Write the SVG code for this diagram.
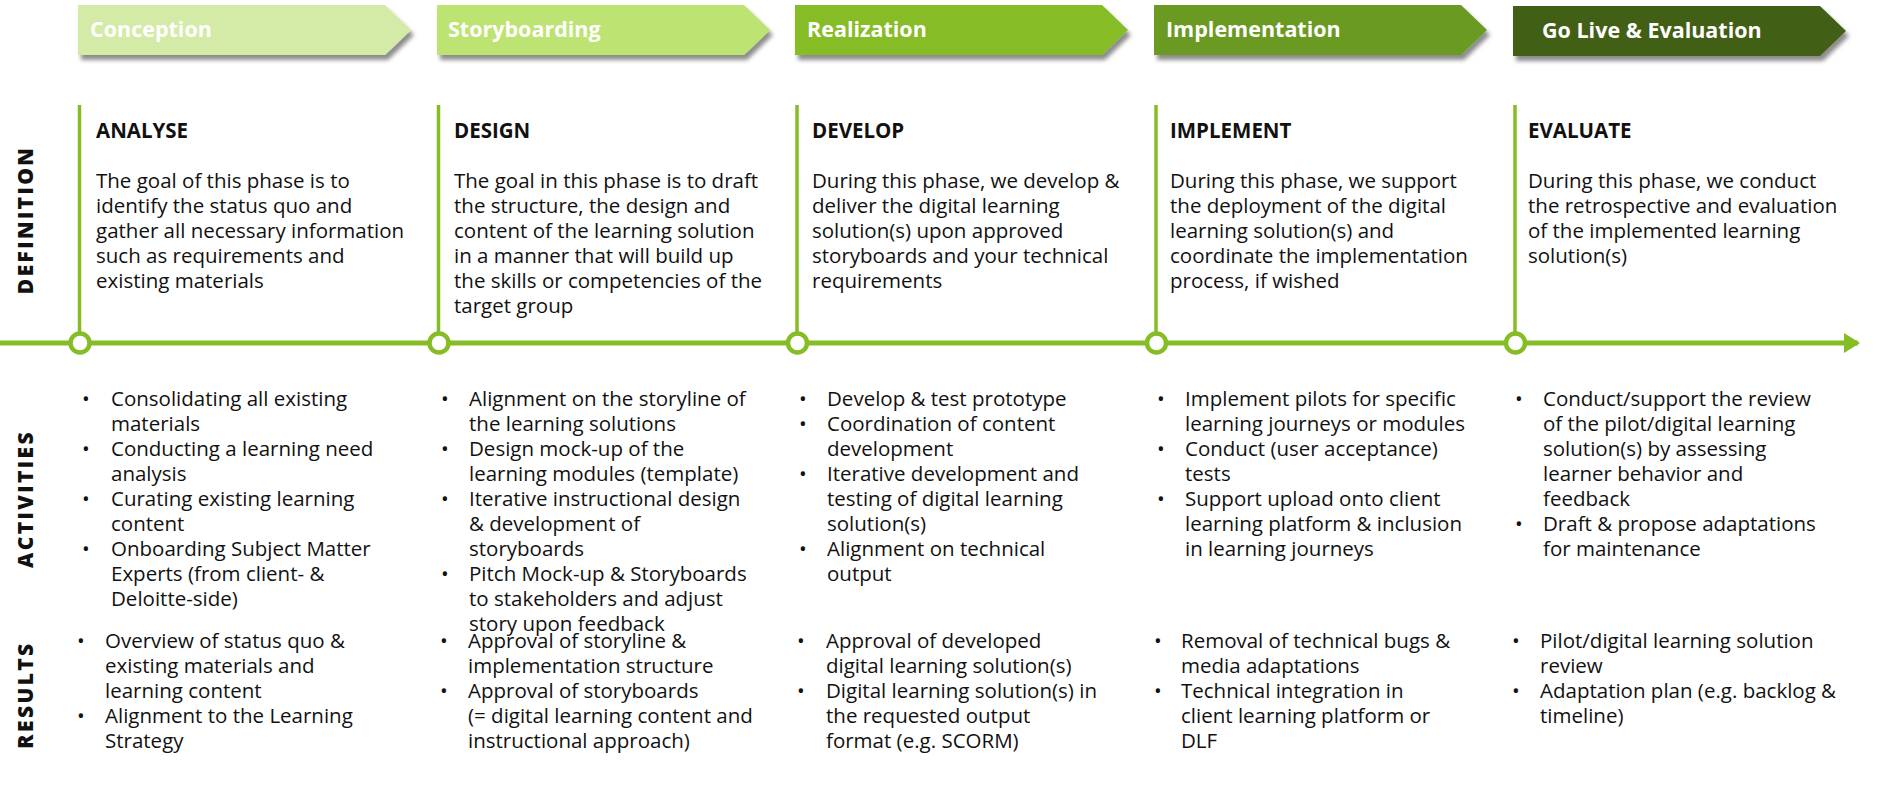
<svg xmlns="http://www.w3.org/2000/svg" width="1877" height="797" viewBox="0 0 1877 797">
<defs>
<style>
.ct{font-family:"Open Sans","DejaVu Sans",sans-serif;font-weight:bold;font-size:21.5px;fill:#ffffff}
.hd{font-family:"Open Sans","DejaVu Sans",sans-serif;font-weight:bold;font-size:20.5px;fill:#111111}
.tx{font-family:"Open Sans","DejaVu Sans",sans-serif;font-size:20.5px;fill:#111111}
.sd{font-family:"Open Sans","DejaVu Sans",sans-serif;font-weight:800;font-size:21px;letter-spacing:2.4px;fill:#111111}
.vl{stroke:#86bc25;stroke-width:3.5;fill:none}
.cir{fill:#ffffff;stroke:#86bc25;stroke-width:4.5}
</style>
<filter id="sh" x="-5%" y="-20%" width="115%" height="160%">
<feDropShadow dx="3" dy="5" stdDeviation="2" flood-color="#000000" flood-opacity="0.45"/>
</filter>
<marker id="arr" markerUnits="userSpaceOnUse" markerWidth="16" markerHeight="20" refX="14" refY="10" orient="auto">
<path d="M0,0 L16,10 L0,20 Z" fill="#86bc25"/>
</marker>
</defs>
<rect width="1877" height="797" fill="#ffffff"/>

<g id="phases">
<g id="phase-conception">
<polygon points="78,5 385,5 411,30 385,55 78,55" fill="#d3eba6" filter="url(#sh)"/>
<text class="ct" x="90" y="37">Conception</text>
</g>
<g id="phase-storyboarding">
<polygon points="437,5 744,5 770,30 744,55 437,55" fill="#bde372" filter="url(#sh)"/>
<text class="ct" x="448" y="37">Storyboarding</text>
</g>
<g id="phase-realization">
<polygon points="795,5 1102,5 1128,30 1102,55 795,55" fill="#86bc25" filter="url(#sh)"/>
<text class="ct" x="807" y="37">Realization</text>
</g>
<g id="phase-implementation">
<polygon points="1154,5 1461,5 1487,30 1461,55 1154,55" fill="#6a9a23" filter="url(#sh)"/>
<text class="ct" x="1166" y="37">Implementation</text>
</g>
<g id="phase-golive">
<polygon points="1513,6 1820,6 1846,31 1820,56 1513,56" fill="#425f17" filter="url(#sh)"/>
<text class="ct" x="1542" y="38">Go Live &amp; Evaluation</text>
</g>
</g>

<g id="row-labels">
<text class="sd" transform="translate(33,220) rotate(-90)" text-anchor="middle">DEFINITION</text>
<text class="sd" transform="translate(33,499) rotate(-90)" text-anchor="middle">ACTIVITIES</text>
<text class="sd" transform="translate(33,695) rotate(-90)" text-anchor="middle">RESULTS</text>
</g>

<g id="connectors">
<line x1="0" y1="343" x2="1858" y2="343" stroke="#86bc25" stroke-width="5" marker-end="url(#arr)"/>
<line class="vl" x1="79.5" y1="105" x2="79.5" y2="343"/>
<line class="vl" x1="438.5" y1="105" x2="438.5" y2="343"/>
<line class="vl" x1="797" y1="105" x2="797" y2="343"/>
<line class="vl" x1="1156" y1="105" x2="1156" y2="343"/>
<line class="vl" x1="1515" y1="105" x2="1515" y2="343"/>
<circle class="cir" cx="80" cy="343" r="9.5"/>
<circle class="cir" cx="439" cy="343" r="9.5"/>
<circle class="cir" cx="797.5" cy="343" r="9.5"/>
<circle class="cir" cx="1156.5" cy="343" r="9.5"/>
<circle class="cir" cx="1515.5" cy="343" r="9.5"/>
</g>

<g id="def-analyse">
<text class="hd" x="96" y="138">ANALYSE</text>
<text class="tx" x="96" y="188">The goal of this phase is to<tspan x="96" y="213">identify the status quo and</tspan><tspan x="96" y="238">gather all necessary information</tspan><tspan x="96" y="263">such as requirements and</tspan><tspan x="96" y="288">existing materials</tspan></text>
</g>
<g id="def-design">
<text class="hd" x="454" y="138">DESIGN</text>
<text class="tx" x="454" y="188">The goal in this phase is to draft<tspan x="454" y="213">the structure, the design and</tspan><tspan x="454" y="238">content of the learning solution</tspan><tspan x="454" y="263">in a manner that will build up</tspan><tspan x="454" y="288">the skills or competencies of the</tspan><tspan x="454" y="313">target group</tspan></text>
</g>
<g id="def-develop">
<text class="hd" x="812" y="138">DEVELOP</text>
<text class="tx" x="812" y="188">During this phase, we develop &amp;<tspan x="812" y="213">deliver the digital learning</tspan><tspan x="812" y="238">solution(s) upon approved</tspan><tspan x="812" y="263">storyboards and your technical</tspan><tspan x="812" y="288">requirements</tspan></text>
</g>
<g id="def-implement">
<text class="hd" x="1170" y="138">IMPLEMENT</text>
<text class="tx" x="1170" y="188">During this phase, we support<tspan x="1170" y="213">the deployment of the digital</tspan><tspan x="1170" y="238">learning solution(s) and</tspan><tspan x="1170" y="263">coordinate the implementation</tspan><tspan x="1170" y="288">process, if wished</tspan></text>
</g>
<g id="def-evaluate">
<text class="hd" x="1528" y="138">EVALUATE</text>
<text class="tx" x="1528" y="188">During this phase, we conduct<tspan x="1528" y="213">the retrospective and evaluation</tspan><tspan x="1528" y="238">of the implemented learning</tspan><tspan x="1528" y="263">solution(s)</tspan></text>
</g>

<g id="act-conception">
<text class="tx" x="82" y="406">•<tspan x="82" y="456">•</tspan><tspan x="82" y="506">•</tspan><tspan x="82" y="556">•</tspan></text>
<text class="tx" x="111" y="406">Consolidating all existing<tspan x="111" y="431">materials</tspan><tspan x="111" y="456">Conducting a learning need</tspan><tspan x="111" y="481">analysis</tspan><tspan x="111" y="506">Curating existing learning</tspan><tspan x="111" y="531">content</tspan><tspan x="111" y="556">Onboarding Subject Matter</tspan><tspan x="111" y="581">Experts (from client- &amp;</tspan><tspan x="111" y="606">Deloitte-side)</tspan></text>
</g>
<g id="act-storyboarding">
<text class="tx" x="441" y="406">•<tspan x="441" y="456">•</tspan><tspan x="441" y="506">•</tspan><tspan x="441" y="581">•</tspan></text>
<text class="tx" x="469" y="406">Alignment on the storyline of<tspan x="469" y="431">the learning solutions</tspan><tspan x="469" y="456">Design mock-up of the</tspan><tspan x="469" y="481">learning modules (template)</tspan><tspan x="469" y="506">Iterative instructional design</tspan><tspan x="469" y="531">&amp; development of</tspan><tspan x="469" y="556">storyboards</tspan><tspan x="469" y="581">Pitch Mock-up &amp; Storyboards</tspan><tspan x="469" y="606">to stakeholders and adjust</tspan><tspan x="469" y="631">story upon feedback</tspan></text>
</g>
<g id="act-realization">
<text class="tx" x="799" y="406">•<tspan x="799" y="431">•</tspan><tspan x="799" y="481">•</tspan><tspan x="799" y="556">•</tspan></text>
<text class="tx" x="827" y="406">Develop &amp; test prototype<tspan x="827" y="431">Coordination of content</tspan><tspan x="827" y="456">development</tspan><tspan x="827" y="481">Iterative development and</tspan><tspan x="827" y="506">testing of digital learning</tspan><tspan x="827" y="531">solution(s)</tspan><tspan x="827" y="556">Alignment on technical</tspan><tspan x="827" y="581">output</tspan></text>
</g>
<g id="act-implementation">
<text class="tx" x="1157" y="406">•<tspan x="1157" y="456">•</tspan><tspan x="1157" y="506">•</tspan></text>
<text class="tx" x="1185" y="406">Implement pilots for specific<tspan x="1185" y="431">learning journeys or modules</tspan><tspan x="1185" y="456">Conduct (user acceptance)</tspan><tspan x="1185" y="481">tests</tspan><tspan x="1185" y="506">Support upload onto client</tspan><tspan x="1185" y="531">learning platform &amp; inclusion</tspan><tspan x="1185" y="556">in learning journeys</tspan></text>
</g>
<g id="act-golive">
<text class="tx" x="1515" y="406">•<tspan x="1515" y="531">•</tspan></text>
<text class="tx" x="1543" y="406">Conduct/support the review<tspan x="1543" y="431">of the pilot/digital learning</tspan><tspan x="1543" y="456">solution(s) by assessing</tspan><tspan x="1543" y="481">learner behavior and</tspan><tspan x="1543" y="506">feedback</tspan><tspan x="1543" y="531">Draft &amp; propose adaptations</tspan><tspan x="1543" y="556">for maintenance</tspan></text>
</g>

<g id="res-conception">
<text class="tx" x="77" y="648">•<tspan x="77" y="723">•</tspan></text>
<text class="tx" x="105" y="648">Overview of status quo &amp;<tspan x="105" y="673">existing materials and</tspan><tspan x="105" y="698">learning content</tspan><tspan x="105" y="723">Alignment to the Learning</tspan><tspan x="105" y="748">Strategy</tspan></text>
</g>
<g id="res-storyboarding">
<text class="tx" x="440" y="648">•<tspan x="440" y="698">•</tspan></text>
<text class="tx" x="468" y="648">Approval of storyline &amp;<tspan x="468" y="673">implementation structure</tspan><tspan x="468" y="698">Approval of storyboards</tspan><tspan x="468" y="723">(= digital learning content and</tspan><tspan x="468" y="748">instructional approach)</tspan></text>
</g>
<g id="res-realization">
<text class="tx" x="797" y="648">•<tspan x="797" y="698">•</tspan></text>
<text class="tx" x="826" y="648">Approval of developed<tspan x="826" y="673">digital learning solution(s)</tspan><tspan x="826" y="698">Digital learning solution(s) in</tspan><tspan x="826" y="723">the requested output</tspan><tspan x="826" y="748">format (e.g. SCORM)</tspan></text>
</g>
<g id="res-implementation">
<text class="tx" x="1154" y="648">•<tspan x="1154" y="698">•</tspan></text>
<text class="tx" x="1181" y="648">Removal of technical bugs &amp;<tspan x="1181" y="673">media adaptations</tspan><tspan x="1181" y="698">Technical integration in</tspan><tspan x="1181" y="723">client learning platform or</tspan><tspan x="1181" y="748">DLF</tspan></text>
</g>
<g id="res-golive">
<text class="tx" x="1512" y="648">•<tspan x="1512" y="698">•</tspan></text>
<text class="tx" x="1540" y="648">Pilot/digital learning solution<tspan x="1540" y="673">review</tspan><tspan x="1540" y="698">Adaptation plan (e.g. backlog &amp;</tspan><tspan x="1540" y="723">timeline)</tspan></text>
</g>
</svg>
